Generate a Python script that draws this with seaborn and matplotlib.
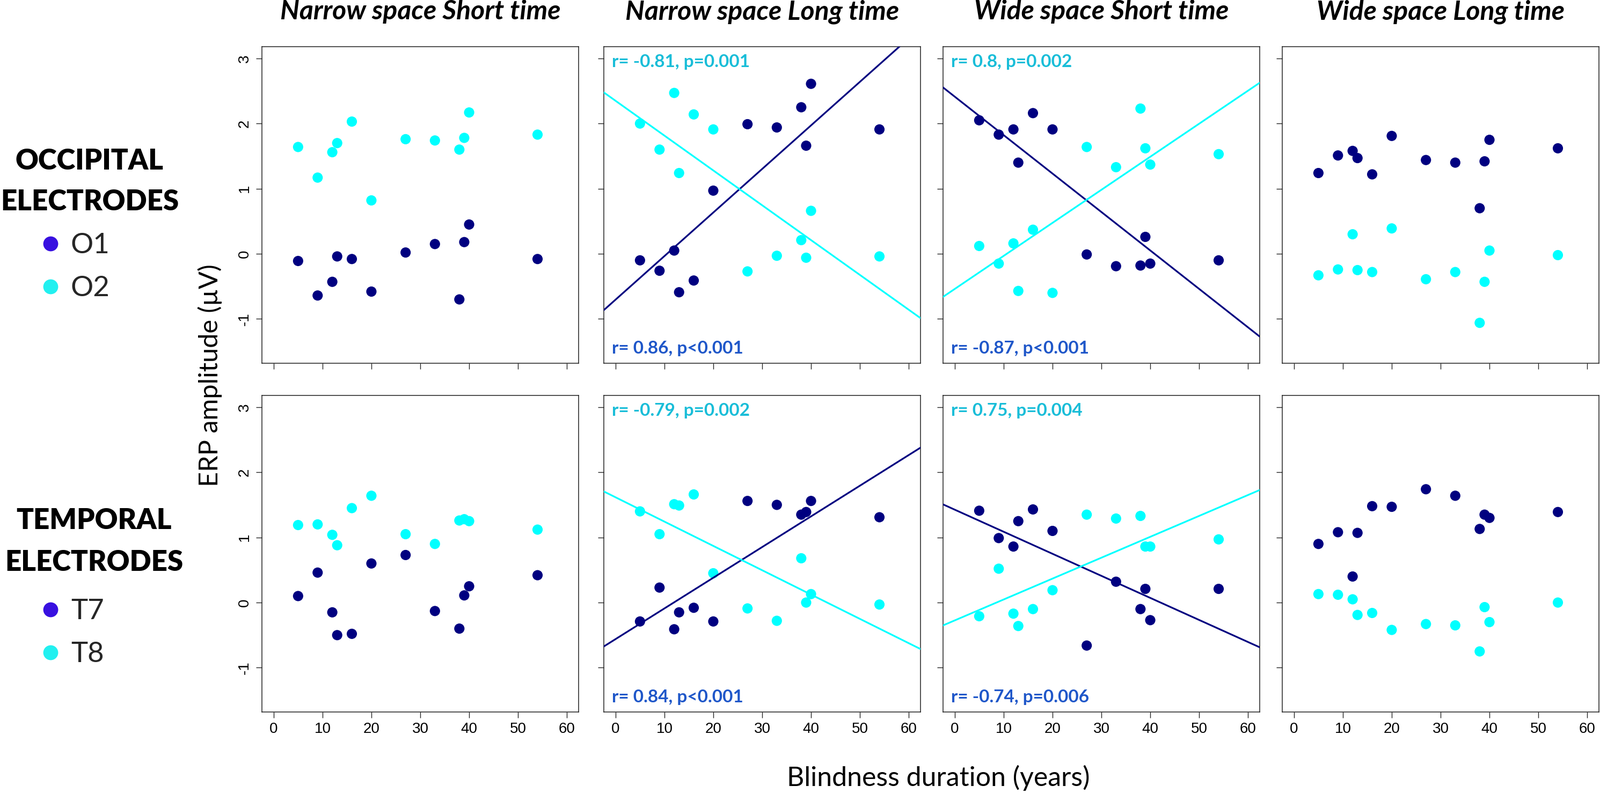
import numpy as np
import pandas as pd
import matplotlib
matplotlib.use("Agg")
import matplotlib.pyplot as plt
from matplotlib.lines import Line2D
import seaborn as sns

# ---------------- data ----------------
years = [5, 9, 12, 13, 16, 20, 27, 33, 38, 39, 40, 54]
conditions = ["Narrow space Short time", "Narrow space Long time",
              "Wide space Short time", "Wide space Long time"]

# occipital row
nsst_o1 = [-0.11, -0.64, -0.43, -0.04, -0.08, -0.58, 0.02, 0.15, -0.70, 0.18, 0.45, -0.08]
nsst_o2 = [1.64, 1.17, 1.56, 1.70, 2.03, 0.82, 1.76, 1.74, 1.60, 1.78, 2.17, 1.83]
nslt_o1 = [-0.10, -0.26, 0.05, -0.59, -0.41, 0.97, 1.99, 1.94, 2.25, 1.66, 2.61, 1.91]
nslt_o2 = [2.00, 1.60, 2.47, 1.24, 2.14, 1.91, -0.27, -0.03, 0.21, -0.06, 0.66, -0.04]
wsst_o1 = [2.05, 1.83, 1.91, 1.40, 2.16, 1.91, -0.01, -0.19, -0.18, 0.26, -0.15, -0.10]
wsst_o2 = [0.12, -0.15, 0.16, -0.57, 0.37, -0.60, 1.64, 1.33, 2.23, 1.62, 1.37, 1.53]
wslt_o1 = [1.24, 1.51, 1.58, 1.47, 1.22, 1.81, 1.44, 1.40, 0.70, 1.42, 1.75, 1.62]
wslt_o2 = [-0.33, -0.24, 0.30, -0.25, -0.28, 0.39, -0.39, -0.28, -1.06, -0.43, 0.05, -0.02]

# temporal row
nsst_t7 = [0.10, 0.46, -0.15, -0.50, -0.48, 0.60, 0.73, -0.13, -0.40, 0.11, 0.25, 0.42]
nsst_t8 = [1.19, 1.20, 1.04, 0.88, 1.45, 1.64, 1.05, 0.90, 1.26, 1.28, 1.25, 1.12]
nslt_t7 = [-0.29, 0.23, -0.41, -0.15, -0.08, -0.29, 1.56, 1.50, 1.35, 1.39, 1.56, 1.31]
nslt_t8 = [1.40, 1.05, 1.51, 1.49, 1.66, 0.45, -0.09, -0.28, 0.68, 0.00, 0.13, -0.03]
wsst_t7 = [1.41, 0.99, 0.86, 1.25, 1.43, 1.10, -0.66, 0.32, -0.10, 0.21, -0.27, 0.21]
wsst_t8 = [-0.21, 0.52, -0.17, -0.36, -0.10, 0.19, 1.35, 1.29, 1.33, 0.86, 0.86, 0.97]
wslt_t7 = [0.90, 1.08, 0.40, 1.07, 1.48, 1.47, 1.74, 1.64, 1.13, 1.35, 1.30, 1.39]
wslt_t8 = [0.13, 0.12, 0.05, -0.19, -0.16, -0.42, -0.33, -0.35, -0.75, -0.07, -0.30, 0.00]

# correlation labels (top: right hemisphere electrode, bottom: left)
stats_top = {"Narrow space Long time": ("r= -0.81, p=0.001", "r= 0.86, p<0.001"),
             "Wide space Short time": ("r= 0.8, p=0.002", "r= -0.87, p<0.001")}
stats_bottom = {"Narrow space Long time": ("r= -0.79, p=0.002", "r= 0.84, p<0.001"),
                "Wide space Short time": ("r= 0.75, p=0.004", "r= -0.74, p=0.006")}

x_ticks = [0, 10, 20, 30, 40, 50, 60]
y_ticks = [-1, 0, 1, 2, 3]

rows = [
    {"name": "occ", "left": "O1", "right": "O2",
     "vals": {conditions[0]: (nsst_o1, nsst_o2), conditions[1]: (nslt_o1, nslt_o2),
              conditions[2]: (wsst_o1, wsst_o2), conditions[3]: (wslt_o1, wslt_o2)},
     "stats": stats_top},
    {"name": "tem", "left": "T7", "right": "T8",
     "vals": {conditions[0]: (nsst_t7, nsst_t8), conditions[1]: (nslt_t7, nslt_t8),
              conditions[2]: (wsst_t7, wsst_t8), conditions[3]: (wslt_t7, wslt_t8)},
     "stats": stats_bottom},
]

NAVY = "#000080"
CYAN = "#00FFFF"
TXT_CYAN = "#19BDD8"
TXT_BLUE = "#1F57C9"
LEG_BLUE = "#3810E0"
LEG_CYAN = "#22F0F0"

sns.set_theme(style="white")
plt.rcParams["font.family"] = ["Lato", "DejaVu Sans"]
plt.rcParams["axes.edgecolor"] = "#222222"

W, H = 2981, 1478
fig = plt.figure(figsize=(W / 100, H / 100), dpi=100)
fig.patch.set_facecolor("white")

col_left = [488, 1125, 1757, 2389]
col_w = 590
row_top = [87, 737]
row_h = 590

tick_font = {"family": ["Liberation Sans", "DejaVu Sans"], "size": 20}

for r, row in enumerate(rows):
    for c, cond in enumerate(conditions):
        lv, rv = row["vals"][cond]
        df = pd.DataFrame({
            "years": years * 2,
            "amp": list(lv) + list(rv),
            "electrode": [row["left"]] * len(years) + [row["right"]] * len(years),
        })
        ax = fig.add_axes([col_left[c] / W, 1 - (row_top[r] + row_h) / H, col_w / W, row_h / H])
        ax.set_xlim(-2.4, 62.4)
        ax.set_ylim(-1.68, 3.18)
        sns.scatterplot(data=df, x="years", y="amp", hue="electrode",
                        palette={row["left"]: NAVY, row["right"]: CYAN},
                        s=190, edgecolor="none", linewidth=0, legend=False, ax=ax, zorder=2)
        if cond in row["stats"]:
            ax.set_xlim(-2.4, 62.4)
            for el, col in [(row["left"], NAVY), (row["right"], CYAN)]:
                sns.regplot(data=df[df["electrode"] == el], x="years", y="amp",
                            scatter=False, ci=None, truncate=False, color=col,
                            line_kws={"lw": 2.3, "zorder": 3}, ax=ax)
            t_top, t_bot = row["stats"][cond]
            ax.text(0.026, 1 - 28 / row_h, t_top, transform=ax.transAxes, ha="left",
                    va="center", color=TXT_CYAN, fontsize=24, fontweight="bold")
            ax.text(0.026, 28 / row_h, t_bot, transform=ax.transAxes, ha="left",
                    va="center", color=TXT_BLUE, fontsize=24, fontweight="bold")
        ax.set_xlim(-2.4, 62.4)
        ax.set_ylim(-1.68, 3.18)
        ax.set_xticks(x_ticks)
        ax.set_yticks(y_ticks)
        ax.set_xlabel("")
        ax.set_ylabel("")
        for sp in ax.spines.values():
            sp.set_linewidth(1.1)
            sp.set_color("#222222")
        ax.tick_params(axis="both", which="major", length=8, width=1.0, color="#222222",
                       direction="out", bottom=True, left=True)
        ax.tick_params(axis="x", pad=6)
        ax.tick_params(axis="y", pad=6)
        if r == 1:
            ax.set_xticklabels([str(v) for v in x_ticks], fontdict=tick_font, color="black")
        else:
            ax.set_xticklabels([])
        if c == 0:
            ax.set_yticklabels([str(v) for v in y_ticks], fontdict=tick_font, color="black",
                               rotation=90, va="center")
        else:
            ax.set_yticklabels([])
        if r == 0:
            fig.text((col_left[c] + col_w / 2) / W, 1 - 22 / H, cond, ha="center", va="center",
                     fontsize=36, fontweight="bold", fontstyle="italic", color="black")

# axis labels
fig.text(1748 / W, 1 - 1450 / H, "Blindness duration (years)", ha="center", va="center",
         fontsize=36, color="black")
fig.text(391 / W, 1 - 700 / H, "ERP amplitude (\u00b5V)", ha="center", va="center",
         rotation=90, fontsize=35, color="black")

# left-side group legends
groups = [("OCCIPITAL", "ELECTRODES", ["O1", "O2"], 167, 300, 377, 434),
          ("TEMPORAL", "ELECTRODES", ["T7", "T8"], 175, 971, 1048, 1116)]
for g1, g2, labs, cx, y1, y2, ytop in groups:
    fig.text(cx / W, 1 - y1 / H, g1, ha="center", va="center", fontsize=38,
             fontweight="heavy", color="black")
    fig.text(cx / W, 1 - y2 / H, g2, ha="center", va="center", fontsize=38,
             fontweight="heavy", color="black")
    handles = [Line2D([], [], marker="o", ls="", color=LEG_BLUE, markersize=20, markeredgewidth=0),
               Line2D([], [], marker="o", ls="", color=LEG_CYAN, markersize=20, markeredgewidth=0)]
    fig.legend(handles, labs, loc="upper left", bbox_to_anchor=(78 / W, 1 - ytop / H),
               frameon=False, fontsize=38, handlelength=0.6, handletextpad=0.42,
               labelspacing=0.63, borderpad=0, borderaxespad=0)

fig.savefig("out.png", dpi=100, facecolor="white")
